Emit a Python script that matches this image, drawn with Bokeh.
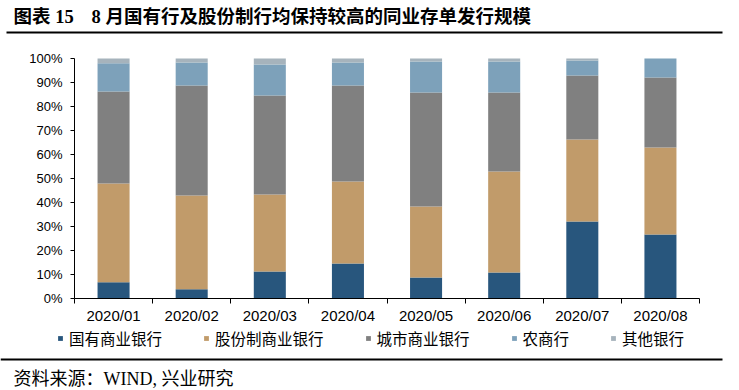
from bokeh.plotting import figure
from bokeh.models import (ColumnDataSource, Range1d, FixedTicker, PrintfTickFormatter,
                          Label, BoxAnnotation, Legend, LegendItem)
from bokeh.embed import file_html
from bokeh.resources import INLINE

months = ["2020/01", "2020/02", "2020/03", "2020/04", "2020/05", "2020/06", "2020/07", "2020/08"]
series_names = ["国有商业银行", "股份制商业银行", "城市商业银行", "农商行", "其他银行"]
guoyou = [6.8, 3.9, 11.3, 14.6, 8.8, 10.8, 32.1, 26.7]
gufen = [41.1, 39.0, 32.0, 34.2, 29.5, 42.1, 34.2, 36.2]
chengshang = [38.4, 45.9, 41.3, 40.0, 47.5, 32.9, 26.6, 29.2]
nongshang = [11.7, 9.5, 12.9, 9.5, 12.9, 12.9, 6.3, 7.9]
qita = [2.0, 1.7, 2.5, 1.7, 1.3, 1.3, 0.8, 0.0]
y_ticks = [0, 10, 20, 30, 40, 50, 60, 70, 80, 90, 100]
colors = ["#28567d", "#c19b6a", "#808080", "#7da1ba", "#a6b3bc"]

title_label = "图表 15"
title_text = "8 月国有行及股份制行均保持较高的同业存单发行规模"
source_text = "资料来源：WIND, 兴业研究"

xs = list(range(1, len(months) + 1))
keys = ["guoyou", "gufen", "chengshang", "nongshang", "qita"]
source = ColumnDataSource(dict(x=xs, guoyou=guoyou, gufen=gufen, chengshang=chengshang,
                               nongshang=nongshang, qita=qita))

# canvas size and where the plotting area sits inside it (pixels)
W, H = 739, 390
PL, PR, PT, PB = 74, 699, 58, 298
n = len(months)
xpp = n / (PR - PL)
ypp = 100.0 / (PB - PT)
x_range = Range1d(0.5 - PL * xpp, n + 0.5 + (W - PR) * xpp)
y_range = Range1d(-(H - PB) * ypp, 100 + PT * ypp)

p = figure(width=W, height=H, output_backend="svg", toolbar_location=None,
           x_range=x_range, y_range=y_range, min_border=0)
p.outline_line_color = None
p.xgrid.visible = False
p.ygrid.visible = False
p.background_fill_color = "white"
p.border_fill_color = "white"

renderers = p.vbar_stack(keys, x="x", width=0.41, color=colors, line_color=None, source=source)

# axes
xa = p.xaxis[0]
xa.fixed_location = 0
xa.bounds = (0.5, n + 0.5)
xa.ticker = FixedTicker(ticks=xs, minor_ticks=[x - 0.5 for x in xs] + [xs[-1] + 0.5])
xa.major_label_overrides = {x: m for x, m in zip(xs, months)}
xa.major_tick_line_color = None
xa.minor_tick_line_color = "black"
xa.minor_tick_out = 5
xa.minor_tick_in = 0
xa.axis_line_color = "black"
xa.major_label_standoff = 2
xa.major_label_text_font = "Liberation Sans"
xa.major_label_text_font_size = "15px"
xa.major_label_text_color = "black"

ya = p.yaxis[0]
ya.fixed_location = 0.5
ya.bounds = (0, 100)
ya.ticker = FixedTicker(ticks=y_ticks)
ya.formatter = PrintfTickFormatter(format="%d%%")
ya.major_tick_out = 4
ya.major_tick_in = 0
ya.minor_tick_line_color = None
ya.axis_line_color = "black"
ya.major_tick_line_color = "black"
ya.major_label_standoff = 8
ya.major_label_text_font = "Liberation Sans"
ya.major_label_text_font_size = "13px"
ya.major_label_text_color = "black"


def sy(fy):
    return H - fy


mixed_font = "'Liberation Serif', 'Noto Sans CJK SC'"

p.add_layout(Label(x=13, y=sy(16), x_units="screen", y_units="screen", text=title_label,
                   text_font=mixed_font, text_font_size="18.5px", text_font_style="bold",
                   text_color="black", text_baseline="middle", text_align="left"))
p.add_layout(Label(x=91, y=sy(16), x_units="screen", y_units="screen", text=title_text,
                   text_font=mixed_font, text_font_size="18.5px", text_font_style="bold",
                   text_color="black", text_baseline="middle", text_align="left"))
p.add_layout(BoxAnnotation(left=6, right=722, top=sy(31), bottom=sy(33),
                           left_units="screen", right_units="screen", top_units="screen",
                           bottom_units="screen", fill_color="black", fill_alpha=1,
                           line_color=None))
p.add_layout(BoxAnnotation(left=0, right=722, top=sy(358), bottom=sy(360),
                           left_units="screen", right_units="screen", top_units="screen",
                           bottom_units="screen", fill_color="black", fill_alpha=1,
                           line_color=None))
p.add_layout(Label(x=13, y=sy(378), x_units="screen", y_units="screen", text=source_text,
                   text_font=mixed_font, text_font_size="18px",
                   text_color="black", text_baseline="middle", text_align="left"))

legend = Legend(items=[LegendItem(label=nm, renderers=[r]) for nm, r in zip(series_names, renderers)],
                location=(57, sy(349)), orientation="horizontal",
                glyph_width=6, glyph_height=6, label_standoff=6, spacing=41,
                padding=0, margin=0, border_line_color=None, background_fill_alpha=0,
                label_text_font="Noto Sans CJK SC", label_text_font_size="15.5px",
                label_text_color="black", label_height=16)
p.add_layout(legend, "center")

open("out.html", "w").write(file_html(p, INLINE))
